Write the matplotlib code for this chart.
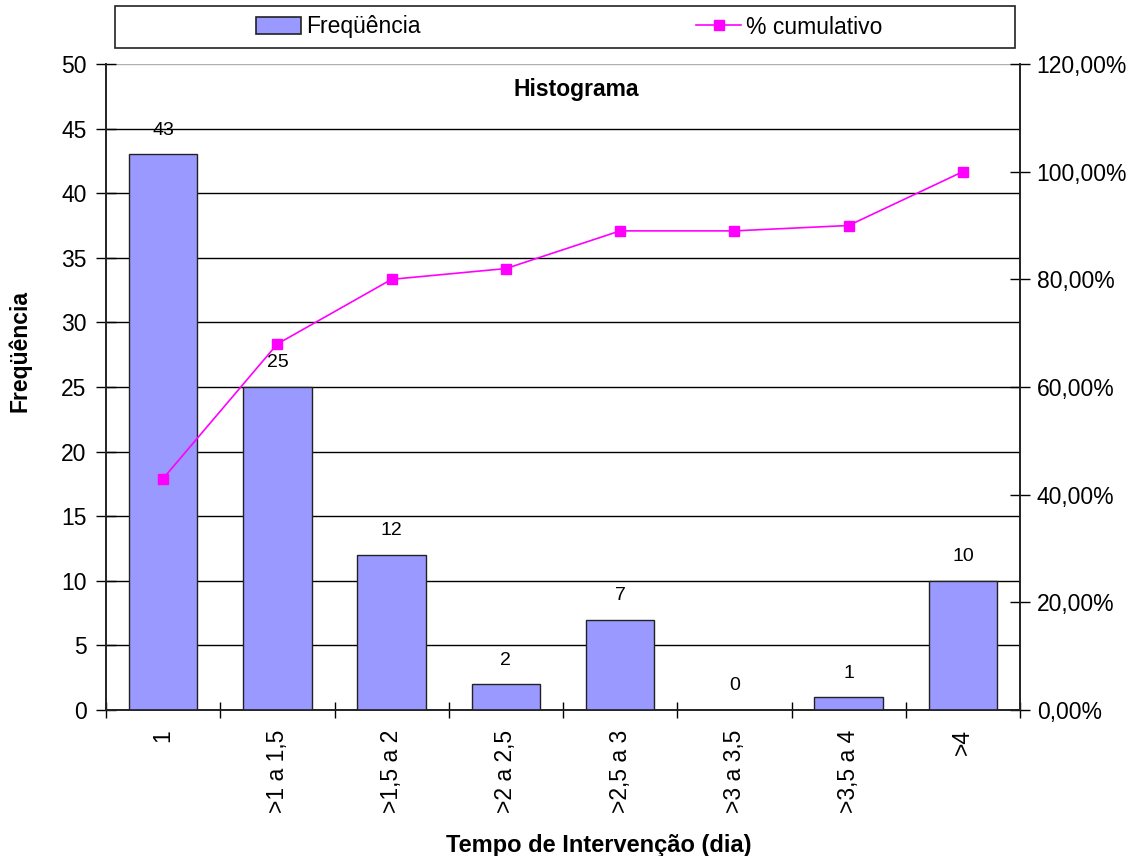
import matplotlib
matplotlib.use("Agg")
import matplotlib.pyplot as plt
from matplotlib.ticker import FuncFormatter, MultipleLocator, FixedLocator
from matplotlib.patches import Patch, Rectangle
from matplotlib.lines import Line2D

plt.rcParams['font.family'] = ['Liberation Sans', 'DejaVu Sans']

categories = ["1", ">1 a 1,5", ">1,5 a 2", ">2 a 2,5", ">2,5 a 3", ">3 a 3,5", ">3,5 a 4", ">4"]
frequencia = [43, 25, 12, 2, 7, 0, 1, 10]
cumulativo = [43.0, 68.0, 80.0, 82.0, 89.0, 89.0, 90.0, 100.0]

bar_color = "#9999FF"
line_color = "#FF00FF"
edge = "#222222"
W, H = 1137, 856

fig = plt.figure(figsize=(W / 100, H / 100), dpi=100)
ax = fig.add_axes([106 / W, 1 - 710 / H, (1020 - 106) / W, (710 - 64) / H])

x = list(range(len(categories)))
ax.bar(x, frequencia, width=0.6, color=bar_color, edgecolor=edge, linewidth=1.0, zorder=3)
ax.set_xlim(-0.5, len(categories) - 0.5)
ax.set_ylim(0, 50)
ax.yaxis.set_major_locator(MultipleLocator(5))
for yv in range(5, 50, 5):
    ax.axhline(yv, color="black", linewidth=1.0, zorder=1)
ax.axhline(50, color="#b0b0b0", linewidth=1.0, zorder=1)

for xi, v in zip(x, frequencia):
    ax.text(xi, v + 1.2, str(v), ha="center", va="bottom", fontsize=14, zorder=5)

ax.set_xticks(x)
ax.set_xticklabels(categories, rotation=90, fontsize=16.5)
ax.xaxis.set_minor_locator(FixedLocator([i - 0.5 for i in range(len(categories) + 1)]))
ax.tick_params(axis="x", which="major", length=0, pad=14)
ax.tick_params(axis="x", which="minor", length=12, direction="inout", width=1)
ax.tick_params(axis="y", which="major", length=14, direction="inout", width=1, labelsize=16.5, pad=7)

for s in ["left", "right", "bottom"]:
    ax.spines[s].set_color(edge)
    ax.spines[s].set_linewidth(1.2)
ax.spines["top"].set_visible(False)

ax.set_ylabel("Freqüência", fontsize=16.5, fontweight="bold")
ax.yaxis.set_label_coords(-0.082, 0.556)
ax.set_xlabel("Tempo de Intervenção (dia)", fontsize=17, fontweight="bold", labelpad=15)
ax.xaxis.label.set_x(0.539)
ax.text(0.514, 0.96, "Histograma", transform=ax.transAxes, ha="center", va="center",
        fontsize=16.5, fontweight="bold")

ax2 = ax.twinx()
ax2.set_ylim(0, 120)
ax2.plot(x, cumulativo, color=line_color, marker="s", markersize=7, linewidth=1.2, zorder=4)
ax2.yaxis.set_major_locator(MultipleLocator(20))
ax2.yaxis.set_major_formatter(FuncFormatter(lambda v, p: f"{v:.2f}".replace(".", ",") + "%"))
ax2.tick_params(axis="y", which="major", length=14, direction="inout", width=1, labelsize=16.5, pad=5)
for s in ["left", "right", "bottom"]:
    ax2.spines[s].set_color(edge)
    ax2.spines[s].set_linewidth(1.2)
ax2.spines["top"].set_visible(False)

# legend frame spanning the top of the figure, with one entry centred in each half
fig.patches.append(Rectangle((115 / W, 1 - 48 / H), 900 / W, 42 / H, transform=fig.transFigure,
                             facecolor="white", edgecolor=edge, linewidth=1.2))
entries = [
    (Patch(facecolor=bar_color, edgecolor=edge, linewidth=1.2, label="Freqüência"), 338),
    (Line2D([0], [0], color=line_color, marker="s", markersize=7, linewidth=1.2, label="% cumulativo"), 789),
]
for handle, cx in entries:
    fig.legend(handles=[handle], loc="center", bbox_to_anchor=(cx / W, 1 - 27 / H),
               fontsize=16.5, frameon=False, handlelength=2.0, handletextpad=0.2,
               borderaxespad=0, borderpad=0)

fig.savefig("out.png", dpi=100)
